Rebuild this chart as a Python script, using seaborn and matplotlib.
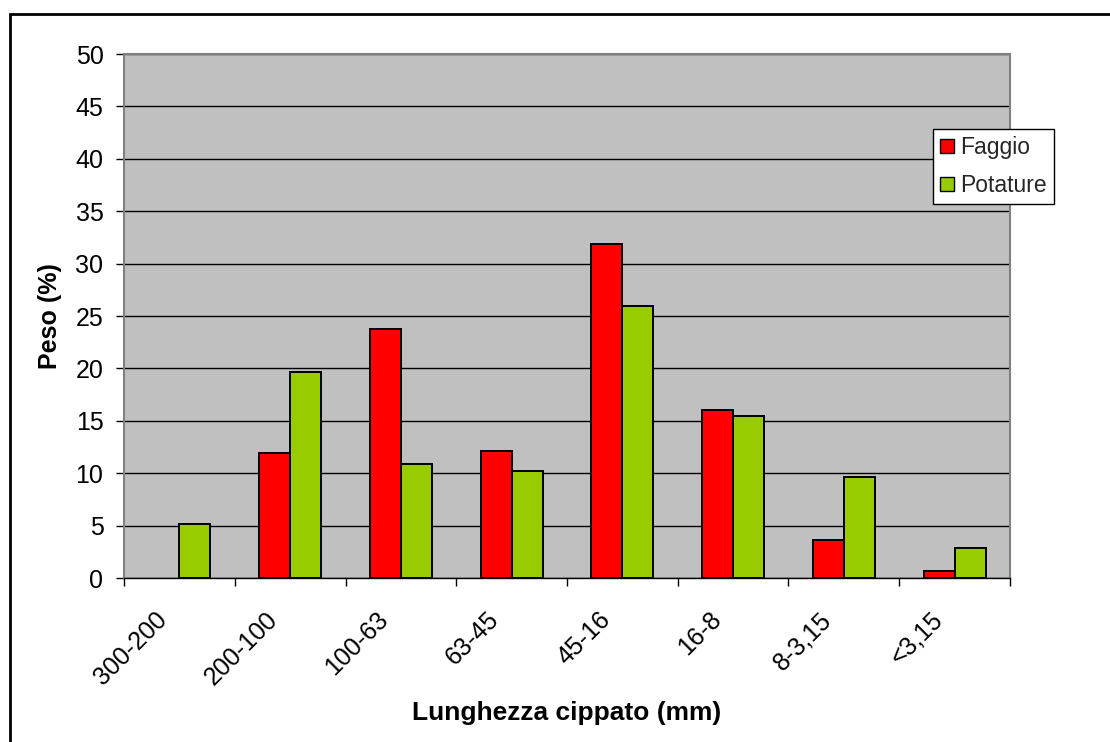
import numpy as np
import pandas as pd
import matplotlib
matplotlib.use("Agg")
import matplotlib.pyplot as plt
import matplotlib.transforms as mtransforms
from matplotlib.patches import Rectangle
import seaborn as sns

categories = ["300-200", "200-100", "100-63", "63-45", "45-16", "16-8", "8-3,15", "<3,15"]
faggio = [np.nan, 11.9, 23.8, 12.1, 31.9, 16.0, 3.6, 0.7]
potature = [5.2, 19.7, 10.9, 10.2, 26.0, 15.5, 9.6, 2.9]
series_names = ["Faggio", "Potature"]
y_ticks = list(range(0, 51, 5))

df = pd.DataFrame({
    "Classe": categories * 2,
    "Peso": faggio + potature,
    "Serie": [series_names[0]] * len(categories) + [series_names[1]] * len(categories),
})

sns.set_theme(style="white")
plt.rcParams["font.family"] = ["Liberation Sans", "DejaVu Sans"]

W, H = 1110, 742
fig = plt.figure(figsize=(W / 100, H / 100), dpi=100)
ax = fig.add_axes([124 / W, 1 - 578 / H, (1010 - 124) / W, (578 - 54) / H])
ax.set_facecolor("#C0C0C0")

sns.barplot(data=df, x="Classe", y="Peso", hue="Serie", hue_order=series_names,
            order=categories, palette={"Faggio": "#FF0000", "Potature": "#99CC00"},
            width=0.56, edgecolor="black", linewidth=1.4, saturation=1, ax=ax,
            errorbar=None)

ax.set_ylim(0, 50)
ax.set_xlim(-0.5, len(categories) - 0.5)
ax.set_yticks(y_ticks)
ax.set_axisbelow(True)
ax.yaxis.grid(True, color="black", linewidth=1)
ax.xaxis.grid(False)

for s in ["left", "top", "right"]:
    ax.spines[s].set_color("#808080")
    ax.spines[s].set_linewidth(1.5)
ax.spines["bottom"].set_color("black")
ax.spines["bottom"].set_linewidth(1)

ax.tick_params(axis="y", which="major", left=True, length=5.8, width=1, color="black",
               direction="out", labelsize=18, pad=9, labelcolor="black")
ax.set_xticks(np.arange(-0.5, len(categories), 1), minor=True)
ax.tick_params(axis="x", which="minor", bottom=True, length=5.8, width=1, color="black", direction="out")
ax.tick_params(axis="x", which="major", bottom=True, length=0, pad=27.4, labelsize=18, labelcolor="black")

offset = mtransforms.ScaledTranslation(-0.16, 0, fig.dpi_scale_trans)
for lab in ax.get_xticklabels():
    lab.set_rotation(45)
    lab.set_ha("right")
    lab.set_va("center")
    lab.set_rotation_mode("anchor")
    lab.set_transform(lab.get_transform() + offset)

ax.set_xlabel("Lunghezza cippato (mm)", fontsize=19, fontweight="bold", color="black")
ax.set_ylabel("Peso (%)", fontsize=18, fontweight="bold", color="black")
ax.xaxis.set_label_coords(0.5, (578 - 701) / 524)
ax.yaxis.set_label_coords((62 - 124) / 886, 0.5)

handles, labels = ax.get_legend_handles_labels()
if ax.get_legend() is not None:
    ax.get_legend().remove()
leg = fig.legend(handles, labels, loc="upper left", bbox_to_anchor=(933 / W, 1 - 129 / H),
                 bbox_transform=fig.transFigure, fontsize=16.5, frameon=True, fancybox=False,
                 shadow=False, borderaxespad=0, handlelength=0.6, handleheight=0.6,
                 handletextpad=0.3, labelspacing=0.67, borderpad=0.3)
leg.get_frame().set_edgecolor("black")
leg.get_frame().set_linewidth(1)
leg.get_frame().set_facecolor("white")
leg.get_frame().set_alpha(1)
for h in leg.legend_handles:
    h.set_edgecolor("black")
    h.set_linewidth(1)

frame = Rectangle((10 / W, -0.2), 1.2, 1 - 14 / H + 0.2, transform=fig.transFigure,
                  fill=False, edgecolor="black", linewidth=2, clip_on=False)
fig.patches.append(frame)

fig.savefig("out.png", dpi=100)
